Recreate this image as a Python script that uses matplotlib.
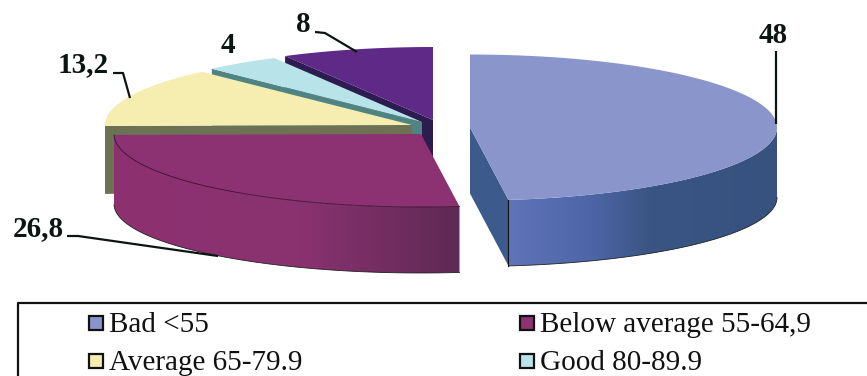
import numpy as np
import matplotlib
matplotlib.use("Agg")
import matplotlib.pyplot as plt
from matplotlib.colors import to_rgb
from matplotlib.patches import Polygon, Rectangle

# percent share of each group, clockwise from 12 o'clock
values = [48, 26.8, 13.2, 4, 8]
value_labels = ["48", "26,8", "13,2", "4", "8"]
legend_names = ["Bad <55", "Below average 55-64,9", "Average 65-79.9", "Good 80-89.9"]

top_colors = ["#8a96cb", "#8c3272", "#f5eeb0", "#b8e3e8", "#5f2a87"]
side_colors = ["#3d5a8c", "#8c3272", "#6e7254", "#4f8482", "#2c1c50"]

# exploded slice centres on the page, in pixels
centers = [(470, 127.5), (421, 134), (412, 125), (422, 122), (433, 120)]
RX, RY = 307, 73
DEPTH = 66
# lower rim is a slightly flatter ellipse than the upper one
LOW_DROP, LOW_RY = 70, 69

plt.rcParams["font.family"] = ["Liberation Serif", "DejaVu Serif"]
fig = plt.figure(figsize=(8.67, 3.76), dpi=100)
ax = fig.add_axes([0, 0, 1, 1])


def rim(center, a0, a1, n=160):
    t = np.radians(np.linspace(a0, a1, n))
    return np.column_stack([center[0] + RX * np.sin(t), center[1] - RY * np.cos(t)])


def low_rim(center, a0, a1, n=160):
    t = np.radians(np.linspace(a0, a1, n))
    return np.column_stack([center[0] + RX * np.sin(t), center[1] + LOW_DROP - LOW_RY * np.cos(t)])


def radial_face(center, angle, color, z, depth=None):
    p = rim(center, angle, angle, 1)[0]
    q = low_rim(center, angle, angle, 1)[0] if depth is None else p + [0, depth]
    c = np.array(center, dtype=float)
    ax.add_patch(Polygon([p, c, c + [0, DEPTH], q], fc=color, ec="none", zorder=z))


def top_face(center, a0, a1, color, z):
    ax.add_patch(Polygon(np.vstack([center, rim(center, a0, a1)]), fc=color, ec="none", zorder=z))


def curved_side(center, a0, a1, xs, cols, z):
    # outer wall, shaded along x with a clipped one-row image
    upper = rim(center, a0, a1)
    lower = low_rim(center, a0, a1)
    outline = Polygon(np.vstack([upper, lower[::-1]]), transform=ax.transData, fc="none", ec="none")
    ax.add_patch(outline)
    x0, x1 = upper[:, 0].min() - 2, upper[:, 0].max() + 2
    grid = np.linspace(x0, x1, 400)
    rgb = np.array([to_rgb(c) for c in cols])
    row = np.stack([np.interp(grid, xs, rgb[:, i]) for i in range(3)], axis=1)
    y0, y1 = upper[:, 1].min() - 2, lower[:, 1].max() + 2
    im = ax.imshow(row[np.newaxis, :, :], extent=(x0, x1, y1, y0), aspect="auto", zorder=z, interpolation="bilinear")
    im.set_clip_path(outline)
    ax.plot(lower[:, 0], lower[:, 1], color="#222222", lw=0.6, zorder=z)


# slice angles come straight from the values
edges = np.concatenate([[0], np.cumsum(values)]) * 3.6
starts, ends = edges[:-1], edges[1:]

# back to front: purple, light blue, yellow, burgundy, blue
radial_face(centers[4], starts[4], side_colors[4], 1, DEPTH)
top_face(centers[4], starts[4], ends[4], top_colors[4], 2)

radial_face(centers[3], starts[3], side_colors[3], 3, DEPTH)
top_face(centers[3], starts[3], ends[3], top_colors[3], 4)

radial_face(centers[2], starts[2], side_colors[2], 5, 68)
top_face(centers[2], starts[2], ends[2], top_colors[2], 6)

curved_side(centers[1], starts[1], ends[1], [113, 300, 458], ["#8d3070", "#8a3270", "#5e2a54"], 7)
top_face(centers[1], starts[1], ends[1], top_colors[1], 8)
arc = rim(centers[1], starts[1], ends[1])
ax.plot(arc[:, 0], arc[:, 1], color="#3a1030", lw=0.6, zorder=8)

radial_face(centers[0], ends[0], side_colors[0], 9)
curved_side(centers[0], starts[0] + 90, ends[0], [509, 590, 650, 777], ["#6074b8", "#4e66a8", "#3a5584", "#37527f"], 10)
top_face(centers[0], starts[0], ends[0], top_colors[0], 11)
corner = rim(centers[0], ends[0], ends[0], 1)[0]
ax.plot([corner[0], corner[0]], [corner[1], low_rim(centers[0], ends[0], ends[0], 1)[0][1]],
        color="#111111", lw=0.8, zorder=12)

# value labels with leader lines
label_pos = [(773, 43), (38, 236), (83, 72.5), (228, 53), (303, 32)]
for txt, (x, y) in zip(value_labels, label_pos):
    ax.text(x, y, txt, fontsize=21, fontweight="bold", color="#0d1512", ha="center", va="baseline", zorder=15)

leaders = [
    [(776, 51), (776, 124)],
    [(67, 236), (78, 236), (218, 256)],
    [(113, 73), (123, 73), (130, 98)],
    [(315, 32), (325, 33), (357, 52)],
]
for line in leaders:
    xs, ys = zip(*line)
    ax.plot(xs, ys, color="#0d1512", lw=1.6, zorder=14, solid_capstyle="butt")

# legend frame runs off the bottom of the page
ax.plot([18, 18, 867], [376, 303, 303], color="#111111", lw=1.6)
swatch_pos = [(89, 323), (520, 323), (89, 360.5), (520, 360.5)]
for name, col, (x, y) in zip(legend_names, top_colors, swatch_pos):
    ax.add_patch(Rectangle((x, y - 7), 14, 14, fc=col, ec="#111111", lw=1.6))
    ax.text(x + 20, y + 9, name, fontsize=21, color="#111111", ha="left", va="baseline")

ax.set_xlim(0, 867)
ax.set_ylim(376, 0)
ax.axis("off")

fig.savefig("out.png", dpi=100)
